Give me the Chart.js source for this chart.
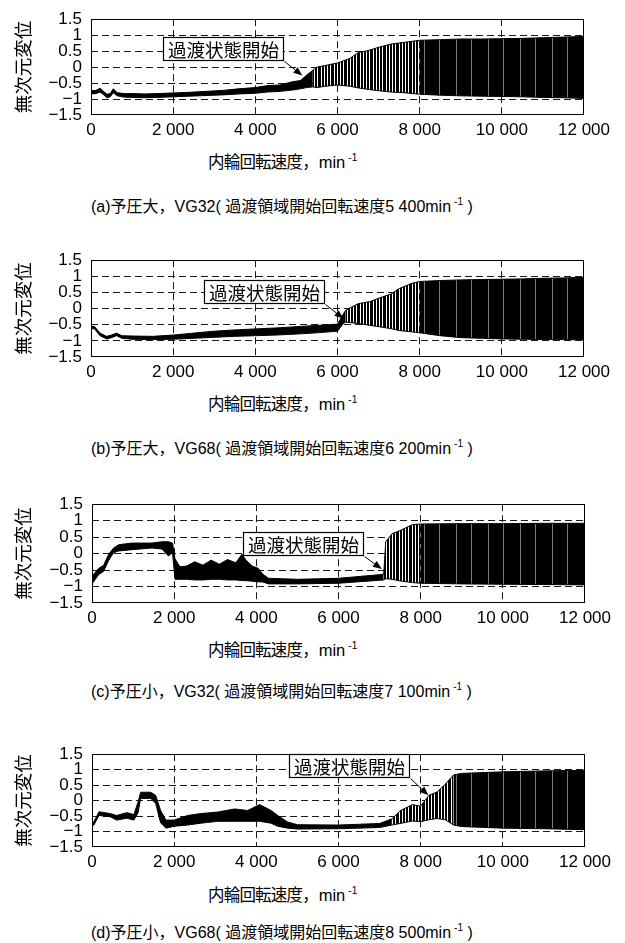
<!DOCTYPE html>
<html>
<head>
<meta charset="utf-8">
<script src="https://cdn.jsdelivr.net/npm/chart.js@4.4.1/dist/chart.umd.min.js"></script>
<style>
  html, body { margin: 0; padding: 0; background: #fff; }
  body { width: 625px; height: 943px; position: relative; overflow: hidden;
         font-family: "Liberation Sans", "Noto Sans CJK JP", sans-serif; color: #000; }
  .panel { position: absolute; left: 0; }
  .panel canvas { display: block; }
  .xt, .cap { position: absolute; white-space: nowrap; font-size: 16px; line-height: 20px; }
  .xt { font-size: 16.5px; }
  .xt .cj { letter-spacing: -0.8px; }
  .sup { font-size: 10px; position: relative; top: -7px; margin-left: 3px; }
</style>
</head>
<body>
<script>
// ---- axis ticks ----
const xTickValues = [0, 2000, 4000, 6000, 8000, 10000, 12000];
const xTickLabels = ['0', '2 000', '4 000', '6 000', '8 000', '10 000', '12 000'];
const yTickValues = [-1.5, -1, -0.5, 0, 0.5, 1, 1.5];
const yTickLabels = ['\u22121.5', '\u22121', '\u22120.5', '0', '0.5', '1', '1.5'];

// ---- texts ----
const yTitle = '無次元変位';
const xTitleMain = '内輪回転速度';
const calloutText = '過渡状態開始';
const captionHeads = ['(a)予圧大，VG32', '(b)予圧大，VG68', '(c)予圧小，VG32', '(d)予圧小，VG68'];
const onsetLabels = ['5 400', '6 200', '7 100', '8 500'];

// ---- phases of the response (inner-ring speed, min^-1) ----
const stripeFrom = [5400, 6200, 7100, 7300];   // irregular oscillation begins
const denseFrom  = [8000, 8000, 8000, 8800];   // fully developed oscillation

// ---- (a) 予圧大, VG32 : envelope of the dimensionless displacement ----
const speedA = [0, 120, 220, 300, 390, 470, 540, 640, 800, 1000, 1300, 1600, 2000, 2400, 2800, 3200, 3600, 4000, 4300, 4600,
                4900, 5100, 5250, 5400, 5500, 5700, 6000, 6300, 6500, 6750, 7000, 7300, 7600, 8000, 8500, 9000, 9500, 10000, 10500, 11000,
                11500, 12000];
const upperA = [-0.74, -0.73, -0.66, -0.76, -0.85, -0.83, -0.68, -0.80, -0.83, -0.83, -0.84, -0.83, -0.81, -0.79, -0.76, -0.73, -0.68, -0.64, -0.58, -0.56,
                -0.46, -0.42, -0.25, -0.10, 0.00, 0.05, 0.13, 0.27, 0.45, 0.52, 0.62, 0.72, 0.77, 0.84, 0.86, 0.88, 0.88, 0.89, 0.90, 0.92,
                0.94, 0.96];
const lowerA = [-0.84, -0.83, -0.78, -0.86, -0.96, -0.93, -0.80, -0.90, -0.94, -0.95, -0.96, -0.95, -0.93, -0.91, -0.89, -0.87, -0.84, -0.82, -0.78, -0.76,
                -0.72, -0.68, -0.64, -0.62, -0.64, -0.60, -0.56, -0.60, -0.65, -0.70, -0.74, -0.78, -0.80, -0.85, -0.88, -0.90, -0.91, -0.92, -0.93, -0.95,
                -0.96, -0.98];

// ---- (b) 予圧大, VG68 ----
const speedB = [0, 80, 220, 380, 500, 620, 750, 1000, 1500, 2000, 2500, 3000, 3500, 4000, 4500, 5000, 5500, 5800, 6000, 6150,
                6200, 6500, 6800, 7000, 7300, 7500, 7800, 8000, 8500, 9000, 9500, 10000, 10500, 11000, 11500, 12000];
const upperB = [-0.56, -0.55, -0.76, -0.86, -0.82, -0.76, -0.84, -0.85, -0.86, -0.82, -0.76, -0.70, -0.66, -0.63, -0.60, -0.56, -0.52, -0.50, -0.48, -0.15,
                -0.05, 0.15, 0.22, 0.32, 0.45, 0.62, 0.78, 0.84, 0.87, 0.89, 0.90, 0.91, 0.92, 0.94, 0.95, 0.97];
const lowerB = [-0.63, -0.62, -0.84, -0.94, -0.90, -0.84, -0.92, -0.95, -0.96, -0.95, -0.92, -0.89, -0.86, -0.84, -0.82, -0.79, -0.75, -0.72, -0.70, -0.45,
                -0.42, -0.46, -0.52, -0.56, -0.62, -0.68, -0.72, -0.75, -0.84, -0.90, -0.92, -0.94, -0.95, -0.96, -0.96, -0.97];

// ---- (c) 予圧小, VG32 ----
const speedC = [0, 160, 280, 405, 525, 650, 970, 1460, 1700, 1860, 1960, 2020, 2140, 2300, 2500, 2700, 2900, 3100, 3300, 3500,
                3650, 3750, 3900, 4050, 4150, 4300, 5000, 6000, 7000, 7100, 7150, 7300, 7500, 7800, 8000, 9000, 10000, 11000, 12000];
const upperC = [-0.69, -0.45, -0.36, -0.02, 0.17, 0.27, 0.32, 0.32, 0.36, 0.36, 0.32, -0.16, -0.40, -0.38, -0.25, -0.35, -0.20, -0.32, -0.18, -0.28,
                -0.02, -0.20, -0.38, -0.45, -0.62, -0.75, -0.78, -0.75, -0.64, -0.62, 0.36, 0.60, 0.70, 0.88, 0.90, 0.91, 0.91, 0.92, 0.92];
const lowerC = [-0.92, -0.64, -0.54, -0.21, 0.03, 0.08, 0.12, 0.17, 0.14, -0.07, 0.03, -0.78, -0.78, -0.78, -0.80, -0.80, -0.78, -0.78, -0.80, -0.80,
                -0.82, -0.82, -0.84, -0.86, -0.86, -0.92, -0.92, -0.90, -0.81, -0.80, -0.76, -0.78, -0.83, -0.88, -0.90, -0.92, -0.93, -0.94, -0.95];

// ---- (d) 予圧小, VG68 ----
const speedD = [0, 45, 170, 440, 600, 850, 1020, 1120, 1185, 1430, 1550, 1670, 1800, 2000, 2330, 2650, 3060, 3470, 3790, 4080,
                4360, 4520, 4760, 5000, 6000, 7000, 7300, 7500, 7800, 8000, 8200, 8400, 8600, 8800, 9000, 10000, 11000, 12000];
const upperD = [-0.72, -0.69, -0.36, -0.42, -0.48, -0.39, -0.45, -0.05, 0.27, 0.27, 0.17, -0.32, -0.63, -0.63, -0.48, -0.42, -0.37, -0.27, -0.32, -0.13,
                -0.32, -0.48, -0.69, -0.78, -0.79, -0.74, -0.59, -0.33, -0.13, -0.18, 0.17, 0.28, 0.53, 0.83, 0.88, 0.93, 0.96, 0.98];
const lowerD = [-0.80, -0.79, -0.48, -0.52, -0.63, -0.57, -0.63, -0.40, 0.07, 0.07, -0.09, -0.72, -0.89, -0.83, -0.79, -0.73, -0.67, -0.67, -0.67, -0.67,
                -0.73, -0.83, -0.89, -0.92, -0.91, -0.87, -0.79, -0.74, -0.66, -0.68, -0.62, -0.58, -0.62, -0.79, -0.84, -0.89, -0.91, -0.94];

const series = [
  { speed: speedA, upper: upperA, lower: lowerA },
  { speed: speedB, upper: upperB, lower: lowerB },
  { speed: speedC, upper: upperC, lower: lowerC },
  { speed: speedD, upper: upperD, lower: lowerD }
];

// ---- page layout of the four panels (pixels) and callout anchors (data units) ----
const layout = [
  { top: 13,  h: 102, left: 91, right: 584, xTitleY: 162, capY: 207, box: [1756, 0.94], tip: [5146, -0.265] },
  { top: 254, h: 103, left: 91, right: 584, xTitleY: 404, capY: 449, box: [2756, 0.89], tip: [6146, -0.31] },
  { top: 498, h: 105, left: 92, right: 585, xTitleY: 650, capY: 692, box: [3674, 0.67], tip: [7056, -0.47] },
  { top: 748, h: 99,  left: 92, right: 585, xTitleY: 895, capY: 933, box: [4805, 1.5],  tip: [8187, 0.17] }
];
const TOP_PAD = 13, XAXIS_H = 30;

// vertical-line fills for the oscillating part of the response:
// each character of `cols` is one pixel column ('1' dark trace, '0' gap)
function stripes(cols, gapColor) {
  const c = document.createElement('canvas');
  c.width = cols.length; c.height = 4;
  const g = c.getContext('2d');
  for (let i = 0; i < cols.length; i++) {
    g.fillStyle = cols[i] === '1' ? '#000' : gapColor;
    g.fillRect(i, 0, 1, 4);
  }
  return g.createPattern(c, 'repeat');
}
const sparseFill = stripes('1101101110110', '#ffffff');
const denseFill = stripes('11111111011111111111111011111111', '#7a7a7a');

function pointsOf(speed, vals, from, to) {
  const out = [];
  for (let i = 0; i < speed.length; i++) {
    if (speed[i] >= from && speed[i] <= to) out.push({ x: speed[i], y: vals[i] });
  }
  return out;
}
function band(s, from, to, fillStyle) {
  return [
    { data: pointsOf(s.speed, s.upper, from, to), borderColor: '#000', borderWidth: 1,
      pointRadius: 0, fill: false, tension: 0 },
    { data: pointsOf(s.speed, s.lower, from, to), borderColor: '#000', borderWidth: 1,
      pointRadius: 0, fill: '-1', backgroundColor: fillStyle, tension: 0 }
  ];
}

// callout box "過渡状態開始" with an arrow to the onset of the transition
const calloutPlugin = {
  id: 'callout',
  afterDatasetsDraw(chart, args, opts) {
    const { ctx } = chart;
    const xs = chart.scales.x, ys = chart.scales.y;
    ctx.save();
    ctx.font = '18.5px "Noto Sans CJK JP"';
    const tw = ctx.measureText(opts.text).width;
    const bx = Math.round(xs.getPixelForValue(opts.box[0])) + 0.5;
    const by = Math.round(ys.getPixelForValue(opts.box[1])) + 0.5;
    const bw = Math.round(tw + 9), bh = 23;
    ctx.fillStyle = '#fff';
    ctx.fillRect(bx, by, bw, bh);
    ctx.strokeStyle = '#000';
    ctx.lineWidth = 1.2;
    ctx.strokeRect(bx, by, bw, bh);
    ctx.fillStyle = '#000';
    ctx.textBaseline = 'middle';
    ctx.textAlign = 'left';
    ctx.fillText(opts.text, bx + 4.5, by + bh / 2 + 1);
    const sx = bx + bw + 1, sy = by + bh + 1;
    const tx = xs.getPixelForValue(opts.tip[0]), ty = ys.getPixelForValue(opts.tip[1]);
    const a = Math.atan2(ty - sy, tx - sx), L = 9, W = 3.5;
    const c = Math.cos(a), s = Math.sin(a);
    ctx.lineWidth = 1;
    ctx.beginPath();
    ctx.moveTo(sx, sy);
    ctx.lineTo(tx - L * c, ty - L * s);
    ctx.stroke();
    ctx.beginPath();
    ctx.moveTo(tx, ty);
    ctx.lineTo(tx - L * c + W * s, ty - L * s - W * c);
    ctx.lineTo(tx - L * c - W * s, ty - L * s + W * c);
    ctx.closePath();
    ctx.fill();
    ctx.restore();
  }
};

// box round the plot area
const framePlugin = {
  id: 'frame',
  afterDraw(chart) {
    const { ctx, chartArea: a } = chart;
    const x0 = Math.round(a.left), x1 = Math.round(a.right);
    const y0 = Math.round(a.top), y1 = Math.round(a.bottom);
    ctx.save();
    ctx.strokeStyle = '#000';
    ctx.lineWidth = 1;
    ctx.strokeRect(x0 + 0.5, y0 + 0.5, x1 - x0 - 1, y1 - y0 - 1);
    ctx.restore();
  }
};

const tickFont = { family: '"Liberation Sans", Arial, sans-serif', size: 17 };
const gridColor = (ctx) => {
  const v = ctx.tick ? ctx.tick.value : null;
  if (v === null) return 'rgba(0,0,0,0)';
  if (v === 0 && ctx.scale.axis === 'x') return 'rgba(0,0,0,0)';
  if (v === 12000 || v === 1.5 || v === -1.5) return 'rgba(0,0,0,0)';
  return '#1a1a1a';
};

layout.forEach((L, i) => {
  const s = series[i];
  const wrap = document.createElement('div');
  wrap.className = 'panel';
  wrap.style.top = (L.top - TOP_PAD) + 'px';
  const canvas = document.createElement('canvas');
  canvas.width = 625;
  canvas.height = TOP_PAD + L.h + XAXIS_H;
  wrap.appendChild(canvas);
  document.body.appendChild(wrap);

  const datasets = [
    ...band(s, 0, stripeFrom[i], '#000'),
    ...band(s, stripeFrom[i], denseFrom[i], sparseFill),
    ...band(s, denseFrom[i], 12000, denseFill)
  ];

  new Chart(canvas, {
    type: 'line',
    data: { datasets },
    options: {
      responsive: false,
      devicePixelRatio: 1,
      animation: false,
      events: [],
      layout: { padding: { top: TOP_PAD, right: 625 - L.right, left: 0, bottom: 0 } },
      plugins: {
        legend: { display: false },
        tooltip: { enabled: false },
        callout: { text: calloutText, box: L.box, tip: L.tip }
      },
      scales: {
        x: {
          type: 'linear', min: 0, max: 12000,
          afterFit: (sc) => { sc.height = XAXIS_H; },
          afterBuildTicks: (sc) => { sc.ticks = xTickValues.map(v => ({ value: v })); },
          ticks: {
            autoSkip: false, maxRotation: 0, padding: 5, color: '#000', font: tickFont,
            callback: (v, idx) => xTickLabels[idx]
          },
          grid: { color: gridColor, lineWidth: 1, drawTicks: false },
          border: { display: false, dash: [7, 4] }
        },
        y: {
          type: 'linear', min: -1.5, max: 1.5,
          afterFit: (sc) => { sc.width = L.left; },
          afterBuildTicks: (sc) => { sc.ticks = yTickValues.map(v => ({ value: v })); },
          ticks: {
            autoSkip: false, padding: 9, color: '#000', font: tickFont,
            callback: (v, idx) => yTickLabels[idx]
          },
          grid: { color: gridColor, lineWidth: 1, drawTicks: false },
          border: { display: false, dash: [7, 4] },
          title: {
            display: true, text: yTitle, color: '#000',
            font: { family: '"Noto Sans CJK JP", sans-serif', size: 18.5 },
            padding: { top: 12, bottom: 0 }
          }
        }
      }
    },
    plugins: [calloutPlugin, framePlugin]
  });

  const xt = document.createElement('div');
  xt.className = 'xt';
  xt.style.left = '208px';
  xt.style.top = (L.xTitleY - 10) + 'px';
  xt.innerHTML = '<span class="cj">' + xTitleMain + '</span>，min<span class="sup">-1</span>';
  document.body.appendChild(xt);

  const cap = document.createElement('div');
  cap.className = 'cap';
  cap.style.left = '91px';
  cap.style.top = (L.capY - 10) + 'px';
  cap.innerHTML = captionHeads[i] + '( 過渡領域開始回転速度' + onsetLabels[i] +
                  'min<span class="sup">-1</span> )';
  document.body.appendChild(cap);
});
</script>
</body>
</html>
